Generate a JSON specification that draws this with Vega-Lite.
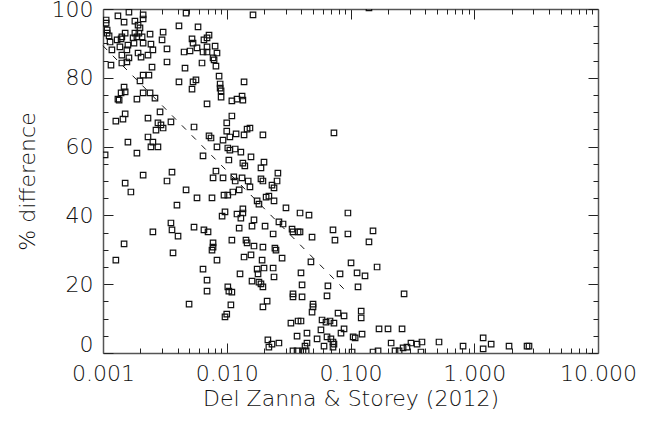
{
"$schema": "https://vega.github.io/schema/vega-lite/v6.json",
"width": 495, "height": 344,
"autosize": "none",
"padding": {"left": 103, "top": 9, "right": 51, "bottom": 73},
"background": "white",
"config": {"view": {"stroke": null},
 "scale": {"continuousPadding": 0},
 "axis": {"grid": false, "domainColor": "#555", "domainWidth": 1.5, "tickColor": "#222", "tickWidth": 1, "labelFlush": false, "labelOverlap": false, "labelFont": "DejaVu Sans", "labelFontWeight": 200, "labelFontSize": 22, "labelColor": "#111", "titleFont": "DejaVu Sans", "titleFontWeight": 200, "titleFontSize": 22, "titleColor": "#111"}},
"datasets": {
"pts": [
{"x":0.00162,"y":99.1},{"x":0.00132,"y":98.0},{"x":0.00211,"y":98.3},{"x":0.00469,"y":98.8},{"x":0.00148,"y":96.2},{"x":0.00181,"y":96.5},{"x":0.00211,"y":97.1},{"x":0.00106,"y":96.8},{"x":0.00106,"y":95.9},{"x":0.00108,"y":93.9},
{"x":0.00108,"y":93.0},{"x":0.00112,"y":92.2},{"x":0.00192,"y":95.3},{"x":0.00199,"y":94.5},{"x":0.00411,"y":95.1},{"x":0.00586,"y":94.8},{"x":0.00151,"y":93.0},{"x":0.00142,"y":91.9},{"x":0.00181,"y":93.0},{"x":0.00195,"y":93.0},
{"x":0.0024,"y":92.7},{"x":0.00306,"y":93.3},{"x":0.0013,"y":91.0},{"x":0.0014,"y":91.3},{"x":0.00175,"y":91.6},{"x":0.00188,"y":91.9},{"x":0.00207,"y":91.9},{"x":0.0030,"y":91.0},{"x":0.00524,"y":91.3},{"x":0.00114,"y":90.4},
{"x":0.00137,"y":89.0},{"x":0.00159,"y":89.5},{"x":0.00178,"y":90.1},{"x":0.00211,"y":90.1},{"x":0.00244,"y":89.8},{"x":0.00534,"y":90.1},{"x":0.00575,"y":88.7},{"x":0.00118,"y":88.1},{"x":0.00156,"y":88.1},{"x":0.00192,"y":87.2},
{"x":0.00203,"y":86.0},{"x":0.00253,"y":88.1},{"x":0.00329,"y":88.4},{"x":0.00452,"y":87.5},{"x":0.00505,"y":87.8},{"x":0.00142,"y":86.6},{"x":0.00162,"y":85.8},{"x":0.00231,"y":86.6},{"x":0.00116,"y":83.7},{"x":0.00142,"y":84.3},
{"x":0.00156,"y":84.6},{"x":0.00329,"y":84.6},{"x":0.00249,"y":83.1},{"x":0.0046,"y":82.8},{"x":0.00211,"y":80.8},{"x":0.00235,"y":80.8},{"x":0.00199,"y":79.1},{"x":0.00411,"y":78.8},{"x":0.00534,"y":78.8},{"x":0.00564,"y":79.4},
{"x":0.00148,"y":77.3},{"x":0.0014,"y":75.6},{"x":0.00151,"y":75.9},{"x":0.00524,"y":76.7},{"x":0.00211,"y":75.6},{"x":0.0024,"y":75.6},{"x":0.00132,"y":73.8},{"x":0.00135,"y":73.5},{"x":0.00188,"y":73.8},{"x":0.00263,"y":74.1},
{"x":0.00289,"y":70.1},{"x":0.00151,"y":69.5},{"x":0.00127,"y":67.4},{"x":0.00145,"y":68.0},{"x":0.00231,"y":68.3},{"x":0.00278,"y":66.9},{"x":0.00294,"y":66.3},{"x":0.00354,"y":67.2},{"x":0.00544,"y":65.7},{"x":0.00268,"y":64.8},
{"x":0.00306,"y":65.4},{"x":0.00231,"y":62.8},{"x":0.00253,"y":61.3},{"x":0.00244,"y":59.9},{"x":0.00278,"y":59.9},{"x":0.00159,"y":61.3},{"x":0.00104,"y":57.6},{"x":0.00188,"y":58.1},{"x":0.00211,"y":51.7},{"x":0.00361,"y":52.6},
{"x":0.0163,"y":98.3},{"x":0.00719,"y":92.4},{"x":0.00693,"y":91.6},{"x":0.00654,"y":91.0},{"x":0.00805,"y":89.2},{"x":0.00693,"y":89.0},{"x":0.00643,"y":87.5},{"x":0.00693,"y":87.5},{"x":0.00834,"y":87.2},{"x":0.00775,"y":85.8},
{"x":0.0079,"y":85.2},{"x":0.00631,"y":84.3},{"x":0.00818,"y":83.4},{"x":0.00867,"y":80.5},{"x":0.0138,"y":78.8},{"x":0.00884,"y":78.2},{"x":0.00884,"y":77.0},{"x":0.0090,"y":76.2},{"x":0.0090,"y":74.4},{"x":0.0110,"y":73.3},
{"x":0.0121,"y":73.8},{"x":0.0133,"y":74.7},{"x":0.0135,"y":73.5},{"x":0.00693,"y":72.4},{"x":0.0110,"y":68.9},{"x":0.0100,"y":66.9},{"x":0.0100,"y":64.5},{"x":0.0146,"y":65.1},{"x":0.0154,"y":65.4},{"x":0.0119,"y":63.7},
{"x":0.0138,"y":63.4},{"x":0.0196,"y":63.4},{"x":0.00719,"y":63.1},{"x":0.00746,"y":62.5},{"x":0.0106,"y":62.8},{"x":0.00933,"y":61.9},{"x":0.00834,"y":59.9},{"x":0.0102,"y":59.6},{"x":0.0106,"y":59.0},{"x":0.0117,"y":59.3},
{"x":0.0130,"y":58.4},{"x":0.00643,"y":57.3},{"x":0.0157,"y":57.0},{"x":0.0104,"y":56.1},{"x":0.0135,"y":55.2},{"x":0.0140,"y":54.4},{"x":0.0200,"y":55.5},{"x":0.0189,"y":53.8},{"x":0.00818,"y":52.9},{"x":0.0259,"y":52.3},
{"x":0.00775,"y":50.9},{"x":0.00933,"y":50.9},{"x":0.0114,"y":51.2},{"x":0.0133,"y":50.9},{"x":0.0189,"y":50.6},{"x":0.00151,"y":49.4},{"x":0.00168,"y":46.8},{"x":0.00329,"y":50.0},{"x":0.00469,"y":47.4},{"x":0.00575,"y":45.1},
{"x":0.00396,"y":43.0},{"x":0.00354,"y":37.8},{"x":0.00253,"y":35.2},{"x":0.00361,"y":35.8},{"x":0.00404,"y":34.0},{"x":0.00544,"y":36.6},{"x":0.00148,"y":31.7},{"x":0.00368,"y":29.1},{"x":0.00127,"y":27.0},{"x":0.00496,"y":14.2},
{"x":0.0117,"y":50.0},{"x":0.0149,"y":50.0},{"x":0.0154,"y":48.3},{"x":0.0196,"y":50.0},{"x":0.0255,"y":50.0},{"x":0.0232,"y":48.8},{"x":0.0241,"y":48.0},{"x":0.0076,"y":45.1},{"x":0.0095,"y":45.9},{"x":0.0102,"y":45.9},
{"x":0.0112,"y":46.8},{"x":0.0126,"y":47.4},{"x":0.0208,"y":45.3},{"x":0.0219,"y":45.6},{"x":0.0241,"y":44.2},{"x":0.0176,"y":44.2},{"x":0.0182,"y":43.3},{"x":0.0301,"y":42.2},{"x":0.00917,"y":39.8},{"x":0.00968,"y":41.0},
{"x":0.0121,"y":40.4},{"x":0.0135,"y":41.9},{"x":0.0135,"y":40.7},{"x":0.0130,"y":39.2},{"x":0.0166,"y":38.7},{"x":0.0160,"y":36.9},{"x":0.0204,"y":36.9},{"x":0.0264,"y":38.1},{"x":0.0285,"y":37.5},{"x":0.0337,"y":36.0},
{"x":0.0343,"y":35.2},{"x":0.0377,"y":35.2},{"x":0.0126,"y":36.3},{"x":0.00654,"y":35.8},{"x":0.00706,"y":35.2},{"x":0.0237,"y":34.6},{"x":0.00775,"y":32.0},{"x":0.00775,"y":30.8},{"x":0.0076,"y":29.9},{"x":0.0110,"y":32.8},
{"x":0.0143,"y":32.8},{"x":0.0146,"y":32.0},{"x":0.0166,"y":31.1},{"x":0.0196,"y":30.8},{"x":0.0245,"y":30.5},{"x":0.0250,"y":29.9},{"x":0.00834,"y":27.0},{"x":0.0138,"y":27.9},{"x":0.0157,"y":28.5},{"x":0.0193,"y":27.0},
{"x":0.0280,"y":27.6},{"x":0.00643,"y":24.4},{"x":0.0176,"y":24.4},{"x":0.0200,"y":24.7},{"x":0.0237,"y":24.7},{"x":0.0128,"y":23.0},{"x":0.0179,"y":23.0},{"x":0.0241,"y":22.1},{"x":0.00693,"y":21.2},{"x":0.0160,"y":20.9},
{"x":0.0182,"y":20.6},{"x":0.0189,"y":20.1},{"x":0.0196,"y":19.2},{"x":0.0102,"y":19.2},{"x":0.0104,"y":18.0},{"x":0.0110,"y":17.7},{"x":0.00693,"y":18.0},{"x":0.0343,"y":17.2},{"x":0.0343,"y":16.3},{"x":0.0212,"y":15.1},
{"x":0.0196,"y":13.4},{"x":0.0108,"y":14.0},{"x":0.0100,"y":11.3},{"x":0.00968,"y":10.5},{"x":0.0330,"y":8.7},{"x":0.0377,"y":9.3},{"x":0.0370,"y":4.9},{"x":0.0215,"y":3.8},{"x":0.0232,"y":2.6},{"x":0.0219,"y":1.7},
{"x":0.0264,"y":2.9},{"x":0.0343,"y":0.6},{"x":0.0370,"y":0.6},{"x":0.0735,"y":64.0},{"x":0.0391,"y":40.7},{"x":0.0462,"y":40.1},{"x":0.0953,"y":40.7},{"x":0.0722,"y":35.8},{"x":0.0391,"y":35.2},{"x":0.0489,"y":33.7},
{"x":0.0749,"y":32.8},{"x":0.0953,"y":34.6},{"x":0.152,"y":35.5},{"x":0.141,"y":32.3},{"x":0.0479,"y":26.5},{"x":0.101,"y":26.2},{"x":0.0398,"y":23.3},{"x":0.0823,"y":23.0},{"x":0.113,"y":23.3},{"x":0.131,"y":22.4},
{"x":0.164,"y":25.0},{"x":0.0406,"y":19.8},{"x":0.0657,"y":19.5},{"x":0.115,"y":19.2},{"x":0.0406,"y":16.3},{"x":0.0646,"y":16.6},{"x":0.271,"y":17.2},{"x":0.0498,"y":14.2},{"x":0.0498,"y":13.4},{"x":0.0489,"y":11.9},
{"x":0.0793,"y":11.6},{"x":0.0887,"y":10.8},{"x":0.122,"y":12.2},{"x":0.122,"y":10.2},{"x":0.0398,"y":9.3},{"x":0.0589,"y":9.6},{"x":0.0634,"y":9.0},{"x":0.0683,"y":9.3},{"x":0.0735,"y":8.7},{"x":0.0887,"y":7.0},
{"x":0.0838,"y":5.8},{"x":0.0577,"y":6.7},{"x":0.0445,"y":5.8},{"x":0.170,"y":7.0},{"x":0.201,"y":7.0},{"x":0.261,"y":7.0},{"x":0.124,"y":5.5},{"x":0.105,"y":4.7},{"x":0.109,"y":4.4},{"x":0.0537,"y":4.1},
{"x":0.0646,"y":4.7},{"x":0.0695,"y":4.1},{"x":0.0722,"y":3.2},{"x":0.0445,"y":2.9},{"x":0.0611,"y":2.0},{"x":0.0722,"y":1.7},{"x":0.0735,"y":2.6},{"x":0.0429,"y":2.0},{"x":0.0413,"y":0.6},{"x":0.0438,"y":0.6},
{"x":0.103,"y":0.3},{"x":0.152,"y":0.3},{"x":0.167,"y":0.6},{"x":0.213,"y":2.9},{"x":0.229,"y":0.6},{"x":0.247,"y":0.6},{"x":0.266,"y":1.5},{"x":0.286,"y":1.7},{"x":0.308,"y":2.9},{"x":0.345,"y":2.6},
{"x":0.378,"y":3.2},{"x":0.371,"y":0.3},{"x":0.519,"y":3.2},{"x":0.812,"y":2.0},{"x":1.18,"y":4.4},{"x":1.18,"y":1.2},{"x":1.37,"y":2.6},{"x":1.91,"y":2.0},{"x":2.67,"y":2.0},{"x":2.77,"y":2.0},
{"x":0.141,"y":100.3}
],
"fit": [{"x":0.001,"y":89.3},{"x":0.092,"y":18.0}]
},
"layer": [
{"data": {"name": "pts"},
 "mark": {"type": "point", "shape": "square", "filled": false, "size": 30, "strokeWidth": 1.2, "color": "#111", "opacity": 1, "clip": true},
 "encoding": {
  "x": {"field": "x", "type": "quantitative", "scale": {"type": "log", "domain": [0.001, 10], "nice": false, "padding": 0},
        "axis": {"orient": "bottom", "values": [0.001, 0.01, 0.1, 1, 10], "format": ".3f", "tickSize": -10, "labelPadding": 20, "title": "Del Zanna & Storey (2012)", "titlePadding": 4}},
  "y": {"field": "y", "type": "quantitative", "scale": {"domain": [0, 100], "nice": false, "zero": false, "padding": 0},
        "axis": {"orient": "left", "values": [0, 20, 40, 60, 80, 100], "tickSize": -10, "labelPadding": 20, "labelOffset": {"condition": {"test": "datum.value === 0", "value": -9}, "value": 0}, "title": "% difference", "titlePadding": 12}}
 }},
{"data": {"name": "fit"},
 "mark": {"type": "line", "color": "#111", "strokeWidth": 1, "strokeDash": [6, 8]},
 "encoding": {
  "x": {"field": "x", "type": "quantitative", "scale": {"type": "log", "domain": [0.001, 10], "nice": false, "padding": 0},
        "axis": {"orient": "bottom", "values": [0.002,0.003,0.004,0.005,0.006,0.007,0.008,0.009,0.02,0.03,0.04,0.05,0.06,0.07,0.08,0.09,0.2,0.3,0.4,0.5,0.6,0.7,0.8,0.9,2,3,4,5,6,7,8,9], "tickSize": -5, "labels": false, "domain": false, "title": null}},
  "y": {"field": "y", "type": "quantitative", "scale": {"domain": [0, 100], "nice": false, "zero": false, "padding": 0},
        "axis": {"orient": "left", "values": [5,10,15,25,30,35,45,50,55,65,70,75,85,90,95], "tickSize": -5, "labels": false, "domain": false, "title": null}}
 }},
{"data": {"name": "fit"},
 "mark": {"type": "line", "opacity": 0},
 "encoding": {
  "x": {"field": "x", "type": "quantitative", "scale": {"type": "log", "domain": [0.001, 10], "nice": false, "padding": 0},
        "axis": {"orient": "top", "values": [0.001, 0.01, 0.1, 1, 10], "tickSize": -10, "labels": false, "title": null}},
  "y": {"field": "y", "type": "quantitative", "scale": {"domain": [0, 100], "nice": false, "zero": false, "padding": 0},
        "axis": {"orient": "right", "values": [0, 20, 40, 60, 80, 100], "tickSize": -10, "labels": false, "title": null}}
 }},
{"data": {"name": "fit"},
 "mark": {"type": "line", "opacity": 0},
 "encoding": {
  "x": {"field": "x", "type": "quantitative", "scale": {"type": "log", "domain": [0.001, 10], "nice": false, "padding": 0},
        "axis": {"orient": "top", "values": [0.002,0.003,0.004,0.005,0.006,0.007,0.008,0.009,0.02,0.03,0.04,0.05,0.06,0.07,0.08,0.09,0.2,0.3,0.4,0.5,0.6,0.7,0.8,0.9,2,3,4,5,6,7,8,9], "tickSize": -5, "labels": false, "domain": false, "title": null}},
  "y": {"field": "y", "type": "quantitative", "scale": {"domain": [0, 100], "nice": false, "zero": false, "padding": 0},
        "axis": {"orient": "right", "values": [5,10,15,25,30,35,45,50,55,65,70,75,85,90,95], "tickSize": -5, "labels": false, "domain": false, "title": null}}
 }}
],
"resolve": {"axis": {"x": "independent", "y": "independent"}}
}
